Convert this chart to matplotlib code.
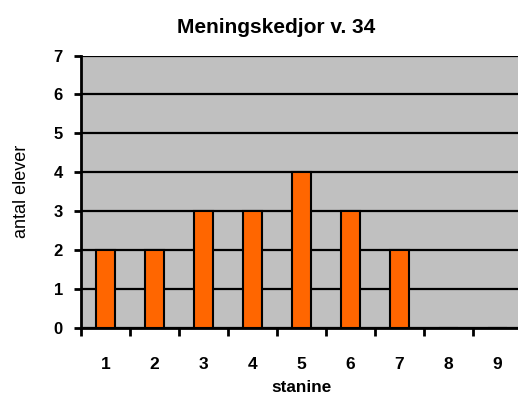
import matplotlib

matplotlib.use("Agg")
import matplotlib.pyplot as plt  # noqa: E402
import numpy as np  # noqa: E402

plt.rcParams["font.family"] = ["Liberation Sans", "DejaVu Sans"]

stanine = [1, 2, 3, 4, 5, 6, 7, 8, 9]
antal = [2, 2, 3, 3, 4, 3, 2, 0, 0]
y_ticks = [0, 1, 2, 3, 4, 5, 6, 7]

fig = plt.figure(figsize=(5.18, 3.96), dpi=100)
ax = fig.add_axes([81 / 518, 1 - 328 / 396, 441 / 518, (328 - 55.5) / 396])
ax.set_facecolor("#C0C0C0")

x = np.arange(len(stanine))
ax.set_axisbelow(True)
ax.grid(axis="y", color="black", linewidth=1.6)
ax.bar(x, antal, width=0.37, color="#FF6600", edgecolor="black", linewidth=1.5, zorder=3)

ax.set_xlim(-0.5, len(stanine) - 0.5)
ax.set_ylim(0, 7)
ax.set_yticks(y_ticks)
ax.set_yticklabels([str(v) for v in y_ticks], fontsize=12, fontweight="bold")
ax.set_xticks(x)
ax.set_xticklabels([str(s) for s in stanine], fontsize=12.5, fontweight="bold")
ax.set_xticks(np.arange(-0.5, len(stanine)), minor=True)
ax.tick_params(axis="x", which="major", length=0, pad=21)
ax.tick_params(axis="x", which="minor", length=6, width=2, direction="out")
ax.tick_params(axis="y", length=5, width=2, direction="out", pad=8)

for side in ("top", "right"):
    ax.spines[side].set_visible(False)
for side in ("left", "bottom"):
    ax.spines[side].set_linewidth(2)

ax.set_title("Meningskedjor v. 34", fontsize=15, fontweight="bold", x=0.443, pad=16)
ax.set_xlabel("stanine", fontsize=12.3, fontweight="bold", labelpad=5.5)
ax.set_ylabel("antal elever", fontsize=13, labelpad=17)

fig.savefig("out.png", dpi=100)
plt.close(fig)
